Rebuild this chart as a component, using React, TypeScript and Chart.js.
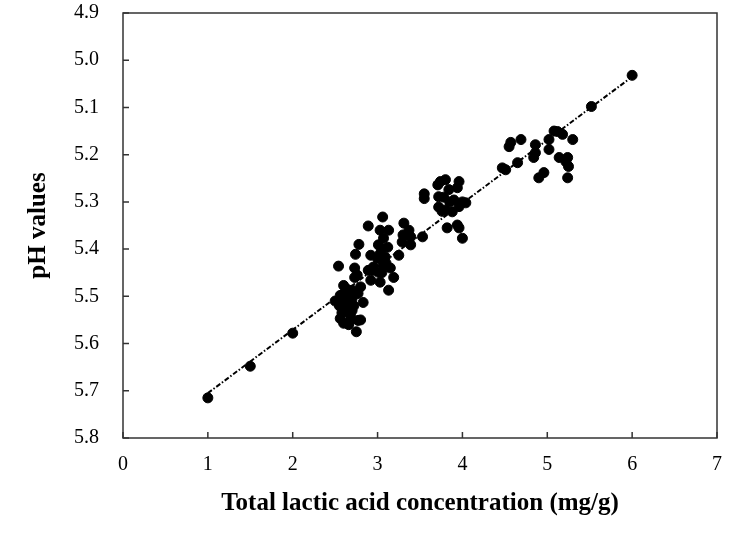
import React, { useEffect, useRef } from "react";
import { Chart, registerables } from "chart.js";

Chart.register(...registerables);

// Total lactic acid concentration (mg/g)
const lactic = [
  1.0, 1.5, 2.0, 5.52, 6.0,
  // cluster ~2.5-2.85
  2.54, 2.6, 2.56, 2.5, 2.55, 2.62, 2.58, 2.66, 2.56, 2.68, 2.6, 2.72, 2.7, 2.77, 2.83, 2.77, 2.8, 2.75,
  2.65, 2.7, 2.64, 2.73, 2.76, 2.73, 2.74, 2.78, 2.68, 2.62, 2.58, 2.7, 2.66, 2.8,
  // cluster ~2.85-3.55
  2.89, 3.03, 3.06, 3.13, 3.07, 3.01, 3.12, 2.92, 3.09, 2.95, 3.07, 2.89, 3.01, 2.92, 3.03, 3.19, 3.13,
  2.94, 3.03, 3.1, 3.0, 3.05, 3.31, 3.37, 3.39, 3.29, 3.39, 3.25, 3.53, 3.3, 3.15, 3.05,
  // cluster ~3.5-4.05
  3.55, 3.55, 3.71, 3.74, 3.8, 3.96, 3.84, 3.94, 3.72, 3.78, 3.9, 4.0, 4.04, 3.72, 3.8, 3.88, 3.96, 3.85,
  3.82, 3.94, 3.96, 4.0, 3.76,
  // cluster ~4.45-5.3
  4.47, 4.51, 4.55, 4.57, 4.69, 4.65, 4.86, 4.86, 4.84, 4.9, 4.96, 5.02, 5.02, 5.12, 5.18, 5.3, 5.14,
  5.24, 5.25, 5.24, 5.08, 5.22,
];

// pH values
const ph = [
  5.715, 5.648, 5.578, 5.098, 5.032,
  5.436, 5.477, 5.498, 5.51, 5.52, 5.515, 5.535, 5.53, 5.547, 5.551, 5.557, 5.52, 5.487, 5.494, 5.513, 5.551, 5.55, 5.575,
  5.5, 5.505, 5.485, 5.46, 5.455, 5.44, 5.411, 5.39, 5.54, 5.49, 5.505, 5.53, 5.56, 5.48,
  5.351, 5.36, 5.332, 5.36, 5.377, 5.391, 5.396, 5.413, 5.417, 5.438, 5.434, 5.445, 5.449, 5.466, 5.47, 5.46, 5.487,
  5.445, 5.41, 5.43, 5.42, 5.45, 5.345, 5.36, 5.374, 5.385, 5.391, 5.413, 5.374, 5.37, 5.44, 5.4,
  5.283, 5.293, 5.264, 5.257, 5.253, 5.257, 5.274, 5.27, 5.289, 5.29, 5.296, 5.3, 5.302, 5.311, 5.317, 5.321, 5.31, 5.3,
  5.355, 5.349, 5.355, 5.377, 5.32,
  5.228, 5.232, 5.183, 5.174, 5.168, 5.217, 5.179, 5.196, 5.206, 5.249, 5.238, 5.168, 5.189, 5.151, 5.157, 5.168, 5.206,
  5.206, 5.225, 5.249, 5.15, 5.215,
];

// Regression line end points
const fitX = [1.0, 6.0];
const fitY = [5.705, 5.035];

const xTicks = [0, 1, 2, 3, 4, 5, 6, 7];
const yTicks = [4.9, 5.0, 5.1, 5.2, 5.3, 5.4, 5.5, 5.6, 5.7, 5.8];

const FONT = '"Liberation Serif", "Times New Roman", serif';

const framePlugin = {
  id: "frame",
  afterDatasetsDraw(chart: any) {
    const { ctx, chartArea, scales } = chart;
    const { left, right, top, bottom } = chartArea;
    ctx.save();
    ctx.strokeStyle = "#333";
    ctx.lineWidth = 1.5;
    ctx.strokeRect(left, top, right - left, bottom - top);
    ctx.beginPath();
    xTicks.forEach((v) => {
      const px = scales.x.getPixelForValue(v);
      ctx.moveTo(px, bottom);
      ctx.lineTo(px, bottom - 6);
    });
    yTicks.forEach((v) => {
      const py = scales.y.getPixelForValue(v);
      ctx.moveTo(left, py);
      ctx.lineTo(left + 6, py);
    });
    ctx.stroke();
    ctx.restore();
  },
};

export default function App() {
  const ref = useRef<HTMLCanvasElement>(null);
  useEffect(() => {
    const points = lactic.map((x, i) => ({ x, y: ph[i] }));
    const fit = fitX.map((x, i) => ({ x, y: fitY[i] }));
    const chart = new Chart(ref.current!, {
      type: "scatter",
      data: {
        datasets: [
          {
            type: "line",
            data: fit,
            borderColor: "#000",
            borderWidth: 2,
            borderDash: [5, 2, 1.5, 2],
            pointRadius: 0,
            fill: false,
          } as any,
          {
            data: points,
            backgroundColor: "#000",
            borderColor: "#000",
            pointRadius: 5,
            pointHoverRadius: 5,
          },
        ],
      },
      options: {
        animation: false,
        responsive: false,
        events: [],
        layout: { padding: { left: 0, right: 27, top: 13, bottom: 0 } },
        plugins: { legend: { display: false }, tooltip: { enabled: false } },
        scales: {
          x: {
            type: "linear",
            min: 0,
            max: 7,
            afterFit: (s: any) => {
              s.height = 99;
              s.paddingLeft = 0;
              s.paddingRight = 0;
            },
            afterBuildTicks: (s: any) => {
              s.ticks = xTicks.map((v) => ({ value: v }));
            },
            grid: { display: false, drawTicks: false },
            border: { display: false },
            ticks: {
              color: "#000",
              padding: 15,
              font: { family: FONT, size: 20 },
              callback: (v: any) => String(v),
            },
            title: {
              display: true,
              text: "Total lactic acid concentration (mg/g)",
              color: "#000",
              font: { family: FONT, size: 25, weight: "bold" },
              padding: { top: 0, bottom: 18.5 },
            },
          },
          y: {
            type: "linear",
            reverse: true,
            min: 4.9,
            max: 5.8,
            afterFit: (s: any) => {
              s.width = 123;
              s.paddingTop = 0;
              s.paddingBottom = 0;
            },
            afterBuildTicks: (s: any) => {
              s.ticks = yTicks.map((v) => ({ value: v }));
            },
            grid: { display: false, drawTicks: false },
            border: { display: false },
            ticks: {
              color: "#000",
              padding: 24,
              font: { family: FONT, size: 20 },
              callback: (v: any) => Number(v).toFixed(1),
            },
            title: {
              display: true,
              text: "pH values",
              color: "#000",
              font: { family: FONT, size: 25, weight: "bold" },
              padding: { top: 24, bottom: 0 },
            },
          },
        },
      },
      plugins: [framePlugin],
    });
    return () => chart.destroy();
  }, []);
  return (
    <div style={{ position: "fixed", left: 0, top: 0, width: 744, height: 537, background: "#fff" }}>
      <canvas ref={ref} width={744} height={537} style={{ width: 744, height: 537 }} />
    </div>
  );
}
